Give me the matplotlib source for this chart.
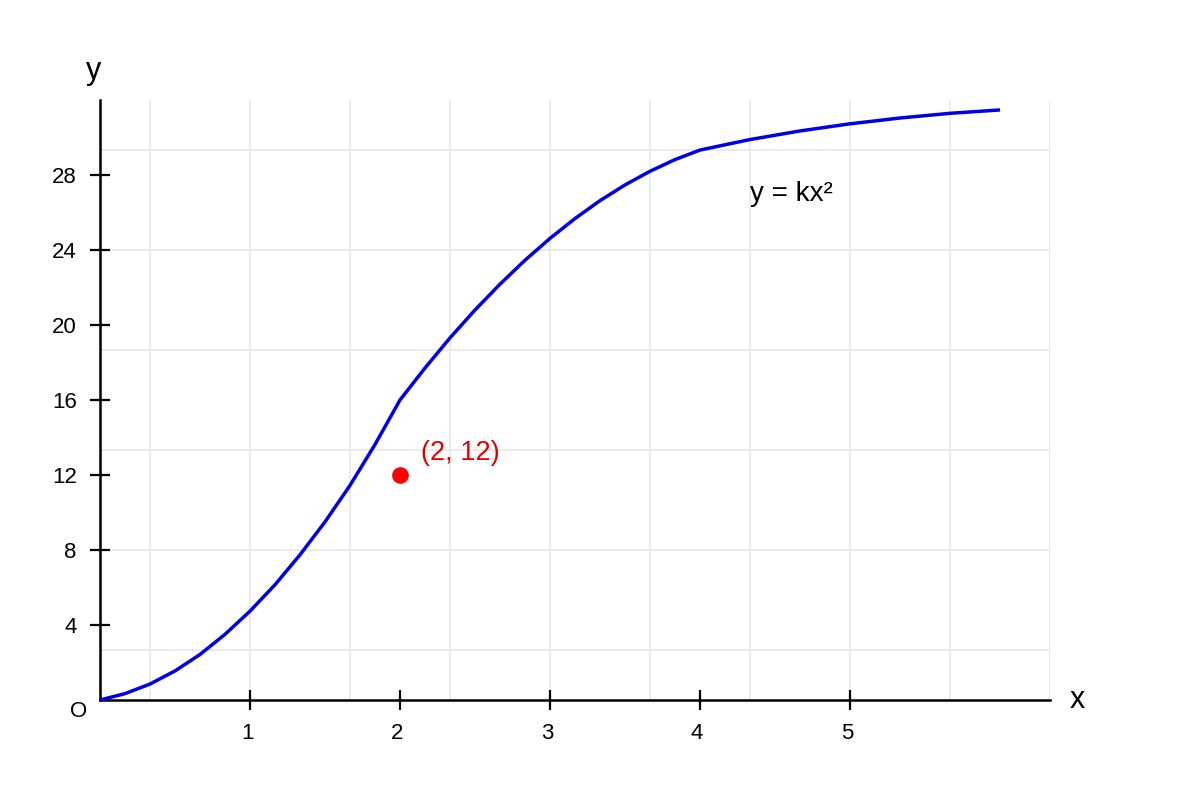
import numpy as np
import matplotlib
matplotlib.use("Agg")
import matplotlib.pyplot as plt
from matplotlib.transforms import ScaledTranslation

plt.rcParams['font.family'] = ['Liberation Sans', 'DejaVu Sans']

# curve values
curve_x = [0, 0.167, 0.333, 0.5, 0.667, 0.833, 1.0, 1.167, 1.333, 1.5, 1.667, 1.833,
           2.0, 2.167, 2.333, 2.5, 2.667, 2.833, 3.0, 3.167, 3.333, 3.5, 3.667, 3.833,
           4.0, 4.333, 4.667, 5.0, 5.333, 5.667, 6.0]
curve_y = [0, 0.34, 0.85, 1.55, 2.43, 3.5, 4.74, 6.15, 7.74, 9.5, 11.45, 13.62,
           16.0, 17.71, 19.31, 20.8, 22.18, 23.45, 24.62, 25.68, 26.63, 27.47, 28.2, 28.82,
           29.33, 29.89, 30.35, 30.73, 31.04, 31.29, 31.47]

point_x = 2
point_y = 12
point_label = "(2, 12)"
curve_label = "y = kx²"

x_ticks = [1, 2, 3, 4, 5]
y_ticks = [4, 8, 12, 16, 20, 24, 28]

fig = plt.figure(figsize=(12, 8), dpi=100)
ax = fig.add_axes([100 / 1200, 100 / 800, 950 / 1200, 600 / 800])
ax.set_xlim(0, 950 / 150)
ax.set_ylim(0, 32)

# light background grid (every 100 px)
for gx in np.arange(1 / 3, 6.34, 2 / 3):
    ax.axvline(gx, color='#e8e8e8', lw=1.2, zorder=0)
for gy in np.arange(50, 600, 100) / 18.75:
    ax.axhline(gy, color='#e8e8e8', lw=1.2, zorder=0)

ax.plot(curve_x, curve_y, color='#0000e6', lw=2.5, zorder=3, clip_on=False,
        solid_joinstyle='round', solid_capstyle='butt')
ax.plot(point_x, point_y, 'o', color='red', markersize=11, zorder=4)
ax.annotate(point_label, (point_x, point_y), xytext=(15.2, 16.2), textcoords='offset points',
            color='#e00000', fontsize=19.5, ha='left', va='center')
ax.text(4.333, 27.0, curve_label, fontsize=20, ha='left', va='center', color='black')

for s in ['top', 'right']:
    ax.spines[s].set_visible(False)
for s in ['left', 'bottom']:
    ax.spines[s].set_linewidth(1.8)
    ax.spines[s].set_color('black')

ax.set_xticks(x_ticks)
ax.set_yticks(y_ticks)
ax.tick_params(direction='inout', length=14.4, width=1.6, labelsize=16, pad=9.5)
off = ScaledTranslation(-3 / 100, 0, fig.dpi_scale_trans)
for lab in ax.get_xticklabels():
    lab.set_transform(lab.get_transform() + off)

# origin and axis names
ax.annotate('O', (0, 0), xytext=(-15.1, -8.6), textcoords='offset points',
            fontsize=16, ha='center', va='center')
ax.annotate('x', (1, 0), xycoords='axes fraction', xytext=(19.4, 0),
            textcoords='offset points', fontsize=22, ha='center', va='center')
ax.annotate('y', (0, 1), xycoords='axes fraction', xytext=(-5.0, 21.1),
            textcoords='offset points', fontsize=22, ha='center', va='center')

fig.savefig('out.png', dpi=100)
